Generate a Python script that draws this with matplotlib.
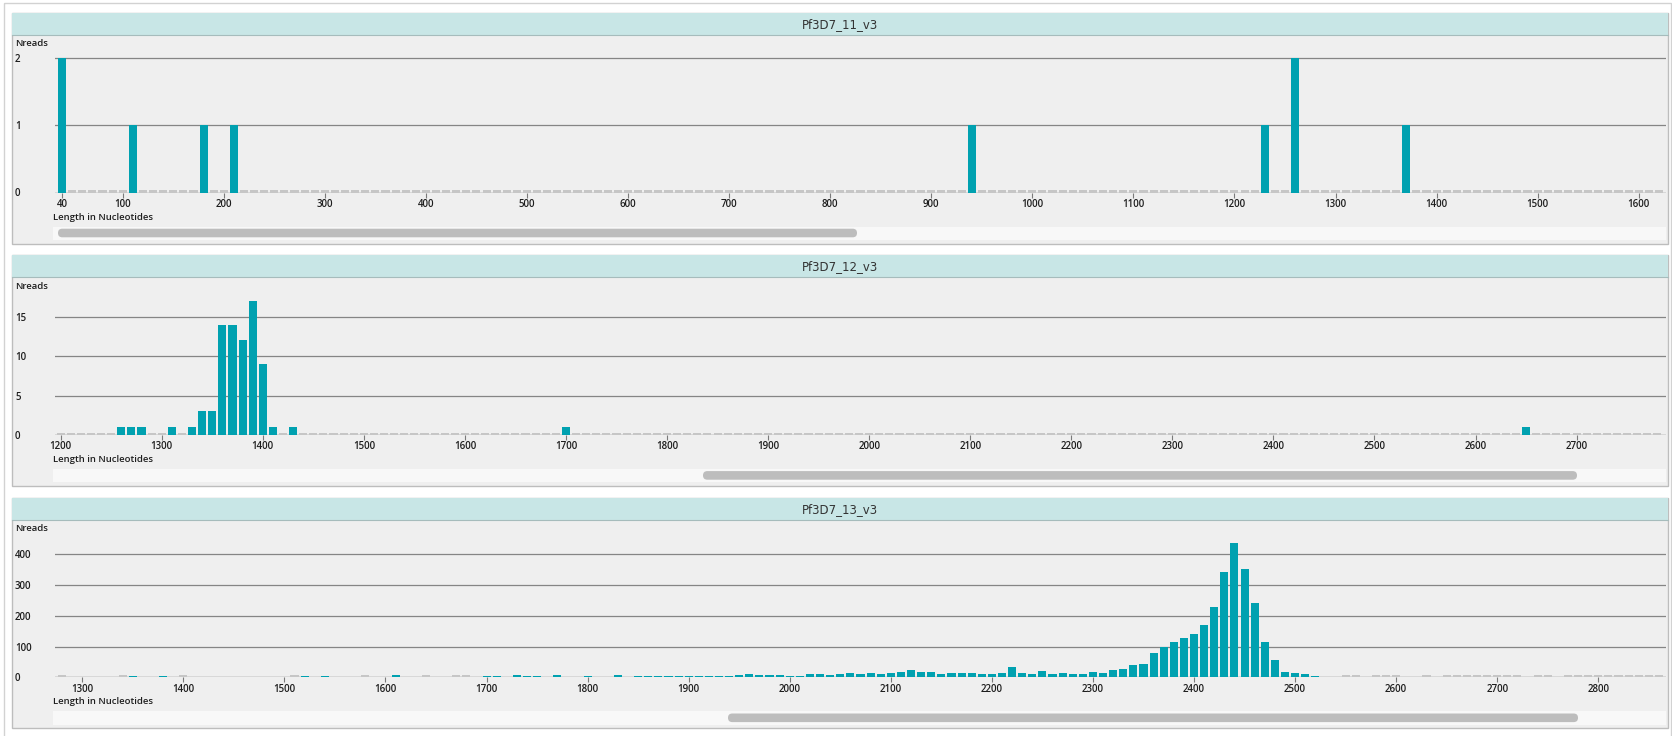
import numpy as np
import matplotlib
matplotlib.use("Agg")
import matplotlib.pyplot as plt
from matplotlib.patches import Rectangle, FancyBboxPatch

plt.rcParams['font.family'] = ['Open Sans', 'DejaVu Sans']

# read counts per 10-nt bin
p11_bins = [40, 110, 180, 210, 940, 1230, 1260, 1370]
p11_counts = [2, 1, 1, 1, 1, 1, 2, 1]

p12_bins = [1260, 1270, 1280, 1310, 1330, 1340, 1350, 1360, 1370, 1380,
            1390, 1400, 1410, 1430, 1700, 2650]
p12_counts = [1, 1, 1, 1, 1, 3, 3, 14, 14, 12, 17, 9, 1, 1, 1, 1]

p13_bins = [1350, 1380, 1520, 1540, 1610, 1700, 1710, 1730, 1740, 1750,
            1770, 1800, 1830, 1850, 1860, 1870, 1880, 1890, 1900, 1910,
            1920, 1930, 1940, 1950, 1960, 1970, 1980, 1990, 2000, 2010,
            2020, 2030, 2040, 2050, 2060, 2070, 2080, 2090, 2100, 2110,
            2120, 2130, 2140, 2150, 2160, 2170, 2180, 2190, 2200, 2210,
            2220, 2230, 2240, 2250, 2260, 2270, 2280, 2290, 2300, 2310,
            2320, 2330, 2340, 2350, 2360, 2370, 2380, 2390, 2400, 2410,
            2420, 2430, 2440, 2450, 2460, 2470, 2480, 2490, 2500, 2510,
            2520]
p13_counts = [3, 3, 3, 3, 7, 3, 3, 6, 4, 4,
              6, 4, 8, 4, 4, 4, 4, 4, 4, 4,
              4, 4, 5, 8, 11, 8, 8, 8, 4, 4,
              11, 11, 8, 11, 14, 11, 14, 11, 14, 18,
              25, 18, 18, 11, 14, 14, 14, 11, 11, 14,
              32, 14, 11, 22, 11, 14, 11, 11, 16, 13,
              23, 27, 39, 43, 78, 98, 116, 129, 142, 171,
              228, 343, 438, 352, 241, 116, 56, 16, 13, 10,
              4]
# bins shown with an empty (grey) marker in the third chart
p13_empty = [1280, 1340, 1400, 1510, 1580, 1640, 1670, 1680, 2550, 2560,
             2580, 2590, 2600, 2630, 2650, 2660, 2670, 2680, 2690, 2700,
             2710, 2720, 2740, 2750, 2770, 2780, 2790, 2800, 2810, 2820,
             2830, 2840, 2850, 2860]

titles = ['Pf3D7_11_v3', 'Pf3D7_12_v3', 'Pf3D7_13_v3']
x_ticks = [[40] + list(range(100, 1700, 100)),
           list(range(1200, 2800, 100)),
           list(range(1300, 2900, 100))]
y_ticks = [[0, 1, 2], [0, 5, 10, 15], [0, 100, 200, 300, 400]]

W, H = 1672, 736
TEAL = '#00a1b0'
EMPTY = '#c6c6c6'
TXT = '#1e1e1e'

fig = plt.figure(figsize=(W / 100, H / 100), dpi=100)
bg = fig.add_axes([0, 0, 1, 1], zorder=0)
bg.set_xlim(0, W)
bg.set_ylim(H, 0)
bg.axis('off')
bg.add_patch(Rectangle((4, 3), 1667, 760, fill=False, ec='#d2d2d2', lw=1))

panels = [
    dict(bins=p11_bins, counts=p11_counts,
         empty=[b for b in range(40, 1630, 10) if b not in p11_bins],
         xlim=(33, 1627), ymax=2.149, thumb=(58, 857)),
    dict(bins=p12_bins, counts=p12_counts,
         empty=[b for b in range(1200, 2790, 10) if b not in p12_bins],
         xlim=(1194.4, 2788.5), ymax=18.36, thumb=(703, 1577)),
    dict(bins=p13_bins, counts=p13_counts, empty=p13_empty,
         xlim=(1273, 2867), ymax=470, thumb=(728, 1578)),
]

AX_L, AX_W, AX_H = 55, 1611, 144.5

for k, p in enumerate(panels):
    T = 13 + 242.4 * k
    # panel frame and header
    bg.add_patch(Rectangle((12, T), 1656, 230.5, fc='#efefef', ec='#bdbdbd', lw=1))
    bg.add_patch(Rectangle((12, T), 1656, 22, fc='#c8e6e6', ec='none'))
    bg.plot([12, 1668], [T + 22, T + 22], color='#a6bcbc', lw=0.8)
    bg.text(840, T + 11.5, titles[k], ha='center', va='center', fontsize=8.5,
            family='DejaVu Sans', color='#333333')
    bg.text(15, T + 31, 'Nreads', ha='left', va='center', fontsize=6.8,
            fontweight='semibold', color=TXT)
    bg.text(53, T + 204, 'Length in Nucleotides', ha='left', va='center',
            fontsize=6.8, fontweight='semibold', color=TXT)
    # scrollbar
    bg.add_patch(Rectangle((53, T + 213.5), 1613, 13.5, fc='#f8f8f8', ec='none'))
    x0, x1 = p['thumb']
    bg.add_patch(FancyBboxPatch((x0, T + 215.7), x1 - x0, 8.6,
                                boxstyle='round,pad=0,rounding_size=4.3',
                                fc='#bdbdbd', ec='none'))

    base = T + 179.5
    ax = fig.add_axes([AX_L / W, 1 - base / H, AX_W / W, AX_H / H], zorder=2)
    ax.patch.set_alpha(0)
    ax.set_xlim(*p['xlim'])
    ax.set_ylim(0, p['ymax'])
    for s in ax.spines.values():
        s.set_visible(False)

    ax.bar(p['bins'], p['counts'], width=8, color=TEAL, zorder=3)
    h = 2.2 * p['ymax'] / AX_H
    ax.bar(p['empty'], [h] * len(p['empty']), width=8, color=EMPTY, zorder=3)
    ax.axhline(0, color='#9a9a9a', lw=0.9, zorder=2)

    ax.set_yticks(y_ticks[k])
    ax.grid(axis='y', color='#858585', lw=0.9)
    ax.set_axisbelow(True)
    ax.tick_params(axis='y', length=0, pad=28.8, labelsize=7, labelcolor=TXT)
    for lbl in ax.get_yticklabels():
        lbl.set_horizontalalignment('left')
        lbl.set_fontweight('semibold')

    ax.set_xticks(x_ticks[k])
    ax.tick_params(axis='x', length=3.5, width=0.8, color='#7a7a7a', pad=1.2,
                   labelsize=7, labelcolor=TXT)
    for lbl in ax.get_xticklabels():
        lbl.set_fontweight('semibold')

fig.savefig('out.png', dpi=100)
